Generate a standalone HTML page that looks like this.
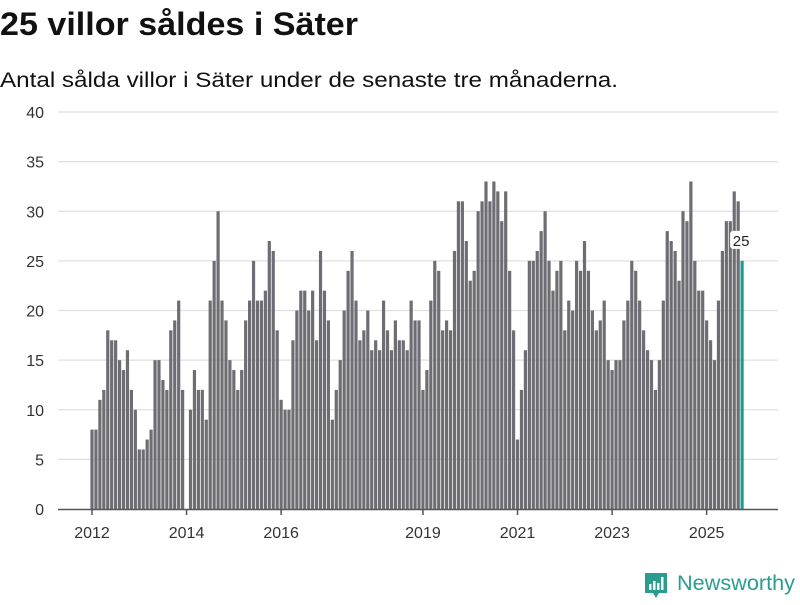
<!DOCTYPE html>
<html><head><meta charset="utf-8"><style>
body{margin:0;background:#fff;width:800px;height:600px;overflow:hidden;font-family:"Liberation Sans",sans-serif}
</style></head><body>
<svg id="chart" width="800" height="600" xmlns="http://www.w3.org/2000/svg">
<text x="0" y="35" font-size="32" font-weight="bold" fill="#111" textLength="358" lengthAdjust="spacingAndGlyphs">25 villor såldes i Säter</text>
<text x="0" y="87" font-size="21" fill="#111" textLength="618" lengthAdjust="spacingAndGlyphs">Antal sålda villor i Säter under de senaste tre månaderna.</text>
<g id="grid"></g>
<g id="bars"></g>
<g id="xaxis"></g>
<g>
<path d="M645 573 h22 v20 h-8 l-3 5 l-3 -5 h-8 z" fill="#2a9d8f"/>
<rect x="649" y="584" width="2.5" height="6" fill="#fff"/>
<rect x="653" y="581" width="2.5" height="9" fill="#fff"/>
<rect x="657" y="583" width="2.5" height="7" fill="#fff"/>
<rect x="661" y="577" width="2.5" height="13" fill="#fff"/>
<text x="677" y="590" font-size="21" fill="#2a9d8f" textLength="118" lengthAdjust="spacingAndGlyphs">Newsworthy</text>
</g>
</svg>
<script>
const values = [8,8,11,12,18,17,17,15,14,16,12,10,
6,6,7,8,15,15,13,12,18,19,21,12,
0,10,14,12,12,9,21,25,30,21,19,15,
14,12,14,19,21,25,21,21,22,27,26,18,
11,10,10,17,20,22,22,20,22,17,26,22,
19,9,12,15,20,24,26,21,17,18,20,16,
17,16,21,18,16,19,17,17,16,21,19,19,
12,14,21,25,24,18,19,18,26,31,31,27,
23,24,30,31,33,31,33,32,29,32,24,18,
7,12,16,25,25,26,28,30,25,22,24,25,
18,21,20,25,24,27,24,20,18,19,21,15,
14,15,15,19,21,25,24,21,18,16,15,12,
15,21,28,27,26,23,30,29,33,25,22,22,
19,17,15,21,26,29,29,32,31,25];
const yTicks = [0,5,10,15,20,25,30,35,40];
const xTickLabels = ["2012","2014","2016","2019","2021","2023","2025"];
const xTickIndex = [0,24,48,84,108,132,156];
const NS="http://www.w3.org/2000/svg";
function y(v){return 509 - v*9.925;}
function x(i){return 92 + i*3.94;}
function mk(tag,attrs,parent){const e=document.createElementNS(NS,tag);for(const k in attrs)e.setAttribute(k,attrs[k]);parent.appendChild(e);return e;}
const grid=document.getElementById('grid'), bars=document.getElementById('bars'), xa=document.getElementById('xaxis');
yTicks.forEach(t=>{
  if(t>0){const l=mk('line',{x1:58,x2:778,y1:y(t),y2:y(t),stroke:'#e0e0e0','stroke-width':1.3},grid);
  
  }
  const tx=mk('text',{x:44,y:y(t)+6,'text-anchor':'end','font-size':16,fill:'#333'},grid);
  
  
  tx.textContent=t;
});
values.forEach((v,i)=>{
  const last=i===values.length-1;
  const r=mk('rect',{x:x(i)-1.6,y:y(v),width:3.2,height:509-y(v),fill:last?'#1a9e8f':'#6e6d73'},bars);
  
  
});
const li=values.length-1;
const lb=mk('rect',{x:x(li)-12,y:y(values[li])-30,width:22,height:18,fill:'#fff',rx:3},bars);


const lt=mk('text',{x:x(li)-1,y:y(values[li])-15,'text-anchor':'middle','font-size':15,fill:'#222'},bars);


lt.textContent=values[li];
const ax=mk('line',{x1:58,x2:778,y1:509.5,y2:509.5,stroke:'#555','stroke-width':1.5},xa);


xTickLabels.forEach((lab,k)=>{
  const px=x(xTickIndex[k]);
  const tk=mk('line',{x1:px,x2:px,y1:509,y2:515,stroke:'#555','stroke-width':1.5},xa);
  
  
  const t=mk('text',{x:px,y:538,'text-anchor':'middle','font-size':16,fill:'#333'},xa);
  
  
  t.textContent=lab;
});
</script>
</body></html>
